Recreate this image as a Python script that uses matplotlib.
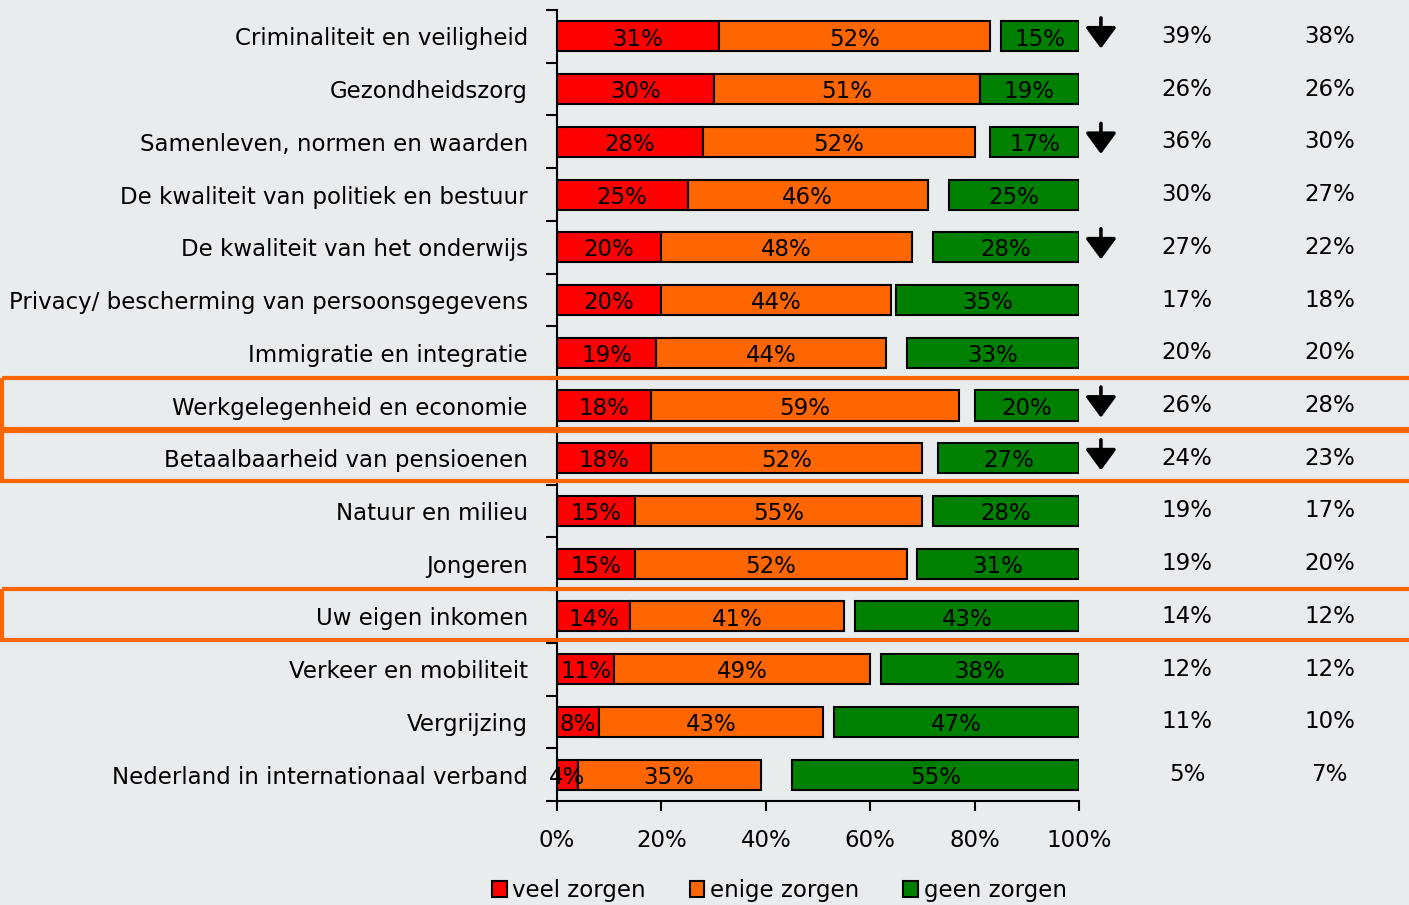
import matplotlib
matplotlib.use("Agg")
import matplotlib.pyplot as plt
from matplotlib.patches import Rectangle, Patch
import matplotlib.transforms as mtransforms
import numpy as np

categories = [
    "Criminaliteit en veiligheid",
    "Gezondheidszorg",
    "Samenleven, normen en waarden",
    "De kwaliteit van politiek en bestuur",
    "De kwaliteit van het onderwijs",
    "Privacy/ bescherming van persoonsgegevens",
    "Immigratie en integratie",
    "Werkgelegenheid en economie",
    "Betaalbaarheid van pensioenen",
    "Natuur en milieu",
    "Jongeren",
    "Uw eigen inkomen",
    "Verkeer en mobiliteit",
    "Vergrijzing",
    "Nederland in internationaal verband",
]
veel = [31, 30, 28, 25, 20, 20, 19, 18, 18, 15, 15, 14, 11, 8, 4]
enige = [52, 51, 52, 46, 48, 44, 44, 59, 52, 55, 52, 41, 49, 43, 35]
geen = [15, 19, 17, 25, 28, 35, 33, 20, 27, 28, 31, 43, 38, 47, 55]
col1 = ["39%", "26%", "36%", "30%", "27%", "17%", "20%", "26%", "24%", "19%", "19%", "14%", "12%", "11%", "5%"]
col2 = ["38%", "26%", "30%", "27%", "22%", "18%", "20%", "28%", "23%", "17%", "20%", "12%", "12%", "10%", "7%"]
arrow_rows = [0, 2, 4, 7, 8]
highlight_rows = [7, 8, 11]
legend_labels = ["veel zorgen", "enige zorgen", "geen zorgen"]
xticks = [0, 20, 40, 60, 80, 100]

RED, ORANGE, GREEN = "#FF0000", "#FF6600", "#008000"
BG = "#E9ECED"
FS = 16.5

plt.rcParams['font.family'] = ['DejaVu Sans']

fig = plt.figure(figsize=(14.09, 9.05), dpi=100, facecolor=BG)
ax = fig.add_axes([557/1409, 1-801/905, (1079-557)/1409, (801-10)/905])
ax.set_facecolor(BG)

n = len(categories)
y = np.arange(n)
h = 0.57
veel_a = np.array(veel); enige_a = np.array(enige); geen_a = np.array(geen)
ax.barh(y, veel_a, height=h, color=RED, edgecolor="black", linewidth=1.5)
ax.barh(y, enige_a, left=veel_a, height=h, color=ORANGE, edgecolor="black", linewidth=1.5)
ax.barh(y, geen_a, left=100-geen_a, height=h, color=GREEN, edgecolor="black", linewidth=1.5)

for i in range(n):
    ax.text(veel[i]/2, i+0.05, f"{veel[i]}%", ha="center", va="center", fontsize=FS, color="black")
    ax.text(veel[i]+enige[i]/2, i+0.05, f"{enige[i]}%", ha="center", va="center", fontsize=FS, color="black")
    ax.text(100-geen[i]/2, i+0.05, f"{geen[i]}%", ha="center", va="center", fontsize=FS, color="black")
    ax.text(120.7, i, col1[i], ha="center", va="center", fontsize=FS, clip_on=False)
    ax.text(148.0, i, col2[i], ha="center", va="center", fontsize=FS, clip_on=False)
    if i in arrow_rows:
        ax.annotate("", xy=(104.2, i + 0.23), xytext=(104.2, i - 0.35),
                    arrowprops=dict(arrowstyle="-|>,head_width=0.55,head_length=0.75",
                                    lw=2.6, color="black", fc="black",
                                    mutation_scale=17, shrinkA=0, shrinkB=0),
                    annotation_clip=False)

ax.set_xlim(0, 100)
ax.set_ylim(n-0.5, -0.5)
ax.set_xticks(xticks)
ax.set_xticklabels([f"{t}%" for t in xticks], fontsize=FS)
ax.set_yticks(y)
ax.set_yticklabels(categories, fontsize=FS)
ax.set_yticks(np.arange(n+1)-0.5, minor=True)
ax.tick_params(axis="y", which="major", length=0, pad=21)
ax.tick_params(axis="y", which="minor", length=8, width=1.5, direction="out")
ax.tick_params(axis="x", which="major", length=7, width=1.5, direction="out", pad=13)
for s in ["top", "right"]:
    ax.spines[s].set_visible(False)
for s in ["left", "bottom"]:
    ax.spines[s].set_linewidth(1.5)

trans = mtransforms.blended_transform_factory(fig.transFigure, ax.transData)
for r in highlight_rows:
    rect = Rectangle((0.0015, r-0.52), 1.2, 0.96, transform=trans, fill=False,
                     edgecolor=ORANGE, linewidth=3, clip_on=False, zorder=5)
    fig.add_artist(rect)

handles = [Patch(facecolor=c, edgecolor="black", linewidth=1.5) for c in (RED, ORANGE, GREEN)]
fig.legend(handles, legend_labels, loc="center", bbox_to_anchor=(0.553, 0.016), ncol=3,
           frameon=False, fontsize=FS, handlelength=0.65, handleheight=0.65,
           handletextpad=0.25, columnspacing=1.9)

fig.savefig("out.png", dpi=100, facecolor=BG)
